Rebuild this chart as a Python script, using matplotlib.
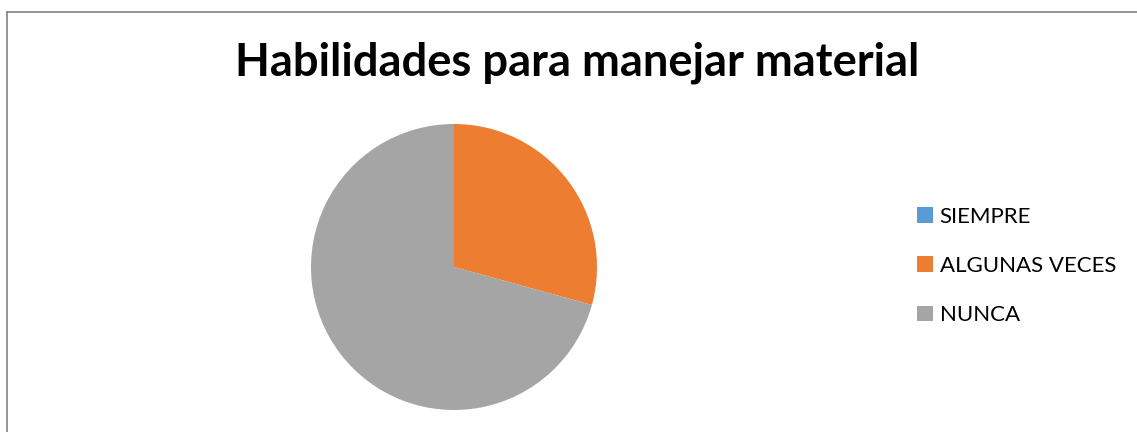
import matplotlib
matplotlib.use('Agg')
import matplotlib.pyplot as plt
from matplotlib.lines import Line2D

labels = ['SIEMPRE', 'ALGUNAS VECES', 'NUNCA']
values = [0, 12, 29]
colors = ['#5B9BD5', '#ED7D31', '#A5A5A5']
title = 'Habilidades para manejar material'

W, H = 1137, 432
fig = plt.figure(figsize=(W / 100, H / 100), dpi=100)
plt.rcParams['font.family'] = ['Lato', 'DejaVu Sans']

# outer chart border (only top and left visible in the crop)
bx, by = 6.5 / W, 1 - 11.5 / H
for xs, ys in [([bx, 1], [by, by]), ([bx, bx], [0, by])]:
    fig.add_artist(Line2D(xs, ys, transform=fig.transFigure,
                          color='#8C8C8C', linewidth=1.3))

cx, cy, r = 454, 267, 143
ax = fig.add_axes([(cx - r) / W, (H - cy - r) / H, 2 * r / W, 2 * r / H])
wedges, _ = ax.pie(values, colors=colors, startangle=90, counterclock=False,
                   radius=1, wedgeprops=dict(linewidth=0))
ax.set_xlim(-1, 1)
ax.set_ylim(-1, 1)
ax.set_aspect('equal')
ax.axis('off')

fig.text(577 / W, 1 - 63 / H, title, ha='center', va='center',
         fontsize=32.7, fontweight='bold', color='#000000')

leg = fig.legend(wedges, labels, loc='center left',
                 bbox_to_anchor=(906 / W, 1 - 266 / H), frameon=False,
                 fontsize=16, handlelength=0.7, handleheight=0.7,
                 handletextpad=0.32, labelspacing=1.32, borderpad=0)

fig.savefig('out.png', dpi=100, facecolor='white')
